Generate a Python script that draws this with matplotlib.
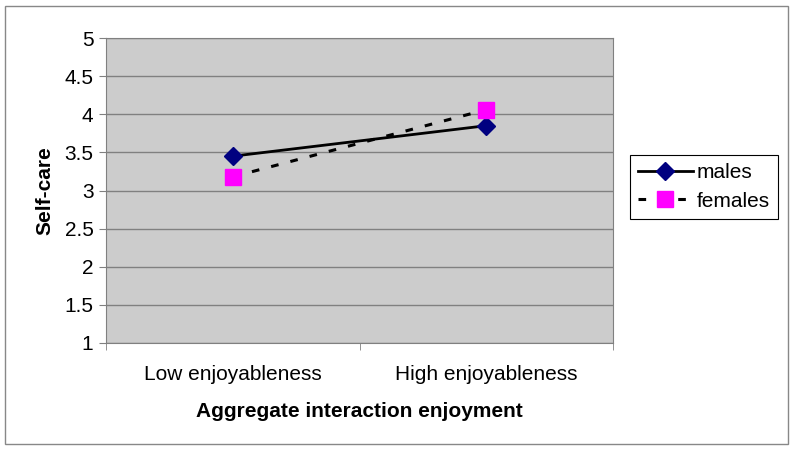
import matplotlib.pyplot as plt
from matplotlib.patches import Rectangle

categories = ["Low enjoyableness", "High enjoyableness"]
males = [3.45, 3.85]
females = [3.18, 4.06]
yticks = [1, 1.5, 2, 2.5, 3, 3.5, 4, 4.5, 5]
ytick_labels = ["1", "1.5", "2", "2.5", "3", "3.5", "4", "4.5", "5"]

plt.rcParams['font.family'] = ['Liberation Sans', 'DejaVu Sans']

fig = plt.figure(figsize=(7.94, 4.5), dpi=100)
# outer chart border
fig.patches.append(Rectangle((5/794, 6/450), 783/794, 438/450, transform=fig.transFigure,
                             fill=False, edgecolor='#888888', linewidth=1))

ax = fig.add_axes([106/794, 1-343/450, 507/794, 305/450])
ax.set_facecolor('#CCCCCC')

x = range(len(categories))
ax.plot(x, males, color='black', linewidth=2, marker='D', markersize=9,
        markerfacecolor='#000080', markeredgecolor='#000080', label='males', zorder=3)
ax.plot(x, females, color='black', linewidth=2.2, linestyle=(0, (2.5, 4)), marker='s', markersize=11,
        markerfacecolor='#FF00FF', markeredgecolor='#FF00FF', label='females', zorder=3)

ax.set_xlim(-0.5, 1.5)
ax.set_ylim(1, 5)
ax.set_yticks(yticks)
ax.set_yticklabels(ytick_labels, fontsize=15)
ax.yaxis.grid(True, color='#808080', linewidth=1)
ax.set_axisbelow(True)

ax.set_xticks(list(x))
ax.set_xticklabels(categories, fontsize=15)
ax.set_xticks([-0.5, 0.5, 1.5], minor=True)
ax.tick_params(axis='x', which='major', length=0, pad=16)
ax.tick_params(axis='x', which='minor', length=5, color='#808080')
ax.tick_params(axis='y', length=5, color='#808080', pad=4)

for side in ['top', 'right', 'left', 'bottom']:
    ax.spines[side].set_color('#808080')

ax.set_xlabel("Aggregate interaction enjoyment", fontsize=15, fontweight='bold', labelpad=13)
ax.set_ylabel("Self-care", fontsize=15, fontweight='bold', labelpad=7)

leg = fig.legend(loc='upper left', bbox_to_anchor=(630/794, 1-155/450), fontsize=15,
                 fancybox=False, edgecolor='black', framealpha=1, borderaxespad=0,
                 handlelength=2.6, labelspacing=0.45, handletextpad=0.2, borderpad=0.4)
leg.get_frame().set_linewidth(0.8)

fig.savefig('out.png', dpi=100)
